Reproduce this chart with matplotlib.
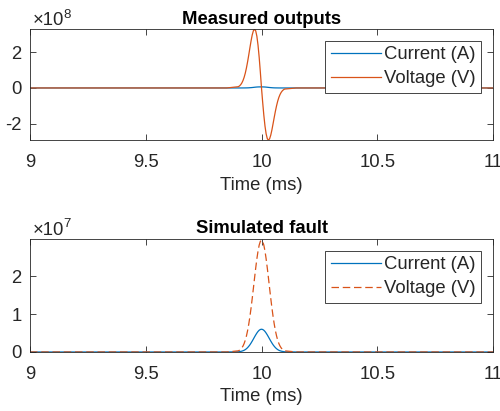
import numpy as np
import matplotlib
matplotlib.use("Agg")
import matplotlib.pyplot as plt

plt.rcParams["font.family"] = ["Liberation Sans", "DejaVu Sans"]

# --- measured outputs (time in ms, values in units of 1e8) ---
t_meas = [9.0, 9.85,
          9.900, 9.905, 9.910, 9.915, 9.920, 9.925, 9.930, 9.935, 9.940, 9.945,
          9.950, 9.955, 9.960, 9.965, 9.970, 9.975, 9.980, 9.985, 9.990, 9.995,
          10.000, 10.005, 10.010, 10.015, 10.020, 10.025, 10.030, 10.035, 10.040,
          10.045, 10.050, 10.055, 10.060, 10.065, 10.070, 10.075, 10.080, 10.085,
          10.090, 10.095, 10.100, 10.15, 11.0]
volt_meas = [0.0, 0.0,
             0.070, 0.115, 0.181, 0.279, 0.415, 0.598, 0.833, 1.128, 1.473, 1.858,
             2.261, 2.650, 2.982, 3.214, 3.300, 3.204, 2.904, 2.401, 1.716, 0.894,
             0.0, -0.794, -1.524, -2.132, -2.578, -2.845, -2.930, -2.853, -2.648,
             -2.353, -2.006, -1.650, -1.307, -1.002, -0.739, -0.530, -0.369, -0.247,
             -0.161, -0.100, -0.062, 0.0, 0.0]
curr_meas = [0.0, 0.0,
             0.0, 0.0, 0.0, 0.001, 0.001, 0.002, 0.003, 0.004, 0.006, 0.009,
             0.014, 0.019, 0.025, 0.032, 0.040, 0.047, 0.053, 0.057, 0.059, 0.060,
             0.060, 0.059, 0.057, 0.053, 0.047, 0.040, 0.032, 0.025, 0.019,
             0.014, 0.009, 0.006, 0.004, 0.003, 0.002, 0.001, 0.001, 0.0,
             0.0, 0.0, 0.0, 0.0, 0.0]

# --- simulated fault (values in units of 1e7) ---
t_sim = [9.0, 9.85,
         9.900, 9.905, 9.910, 9.915, 9.920, 9.925, 9.930, 9.935, 9.940, 9.945,
         9.950, 9.955, 9.960, 9.965, 9.970, 9.975, 9.980, 9.985, 9.990, 9.995,
         10.000, 10.005, 10.010, 10.015, 10.020, 10.025, 10.030, 10.035, 10.040,
         10.045, 10.050, 10.055, 10.060, 10.065, 10.070, 10.075, 10.080, 10.085,
         10.090, 10.095, 10.100, 10.15, 11.0]
volt_sim = [0.0, 0.0,
            0.030, 0.047, 0.072, 0.107, 0.156, 0.223, 0.311, 0.424, 0.565, 0.736,
            0.936, 1.164, 1.415, 1.681, 1.951, 2.214, 2.455, 2.661, 2.818, 2.916,
            2.950, 2.916, 2.818, 2.661, 2.455, 2.214, 1.951, 1.681, 1.415,
            1.164, 0.936, 0.736, 0.565, 0.424, 0.311, 0.223, 0.156, 0.107,
            0.072, 0.047, 0.030, 0.0, 0.0]
curr_sim = [0.0, 0.0,
            0.006, 0.010, 0.015, 0.022, 0.032, 0.045, 0.063, 0.086, 0.115, 0.150,
            0.190, 0.237, 0.288, 0.342, 0.397, 0.450, 0.499, 0.541, 0.573, 0.593,
            0.600, 0.593, 0.573, 0.541, 0.499, 0.450, 0.397, 0.342, 0.288,
            0.237, 0.190, 0.150, 0.115, 0.086, 0.063, 0.045, 0.032, 0.022,
            0.015, 0.010, 0.006, 0.0, 0.0]

xticks = [9, 9.5, 10, 10.5, 11]
xticklabels = ["9", "9.5", "10", "10.5", "11"]

BLUE = "#0072BD"
ORANGE = "#D95319"
AXC = "#262626"
FS = 13.3


def style_axes(ax, title, exp, yticks, ylim):
    ax.set_xlim(9, 11)
    ax.set_ylim(*ylim)
    ax.set_xticks(xticks)
    ax.set_xticklabels(xticklabels)
    ax.set_yticks(yticks)
    ax.set_yticklabels([f"{v:g}" for v in yticks])
    ax.tick_params(direction="in", length=4, width=0.6, colors=AXC,
                   labelsize=FS, top=True, right=True)
    ax.tick_params(axis="x", pad=10)
    ax.tick_params(axis="y", pad=6)
    for s in ax.spines.values():
        s.set_color(AXC)
        s.set_linewidth(0.6)
    ax.set_xlabel("Time (ms)", fontsize=FS, color=AXC, labelpad=4)
    ax.set_title(title, fontsize=FS, fontweight="bold", pad=4)
    ax.text(0.006, 1.0, "\u00d710", transform=ax.transAxes, fontsize=FS,
            color=AXC, ha="left", va="bottom")
    ax.text(0.073, 1.075, exp, transform=ax.transAxes, fontsize=FS * 0.72,
            color=AXC, ha="left", va="bottom")
    leg = ax.legend(loc="upper right", bbox_to_anchor=(0.974, 0.892),
                    borderaxespad=0, fontsize=FS, handlelength=2.75,
                    handletextpad=0.15, borderpad=0.28, labelspacing=0.38,
                    fancybox=False, framealpha=1)
    leg.get_frame().set_edgecolor(AXC)
    leg.get_frame().set_linewidth(0.6)
    for txt in leg.get_texts():
        txt.set_color(AXC)


fig = plt.figure(figsize=(5.0, 4.11), dpi=100)
ax1 = fig.add_axes([0.06, 0.659, 0.926, 0.270])
ax2 = fig.add_axes([0.06, 0.1436, 0.926, 0.275])

ax1.plot(t_meas, curr_meas, color=BLUE, lw=0.9, label="Current (A)")
ax1.plot(t_meas, volt_meas, color=ORANGE, lw=0.9, label="Voltage (V)")
style_axes(ax1, "Measured outputs", "8", [-2, 0, 2],
           (min(volt_meas), max(volt_meas)))

ax2.plot(t_sim, curr_sim, color=BLUE, lw=0.9, label="Current (A)")
ax2.plot(t_sim, volt_sim, color=ORANGE, lw=0.9, dashes=(6, 3),
         label="Voltage (V)")
style_axes(ax2, "Simulated fault", "7", [0, 1, 2],
           (0, max(volt_sim) * 1.01))

fig.savefig("out.png", dpi=100)
